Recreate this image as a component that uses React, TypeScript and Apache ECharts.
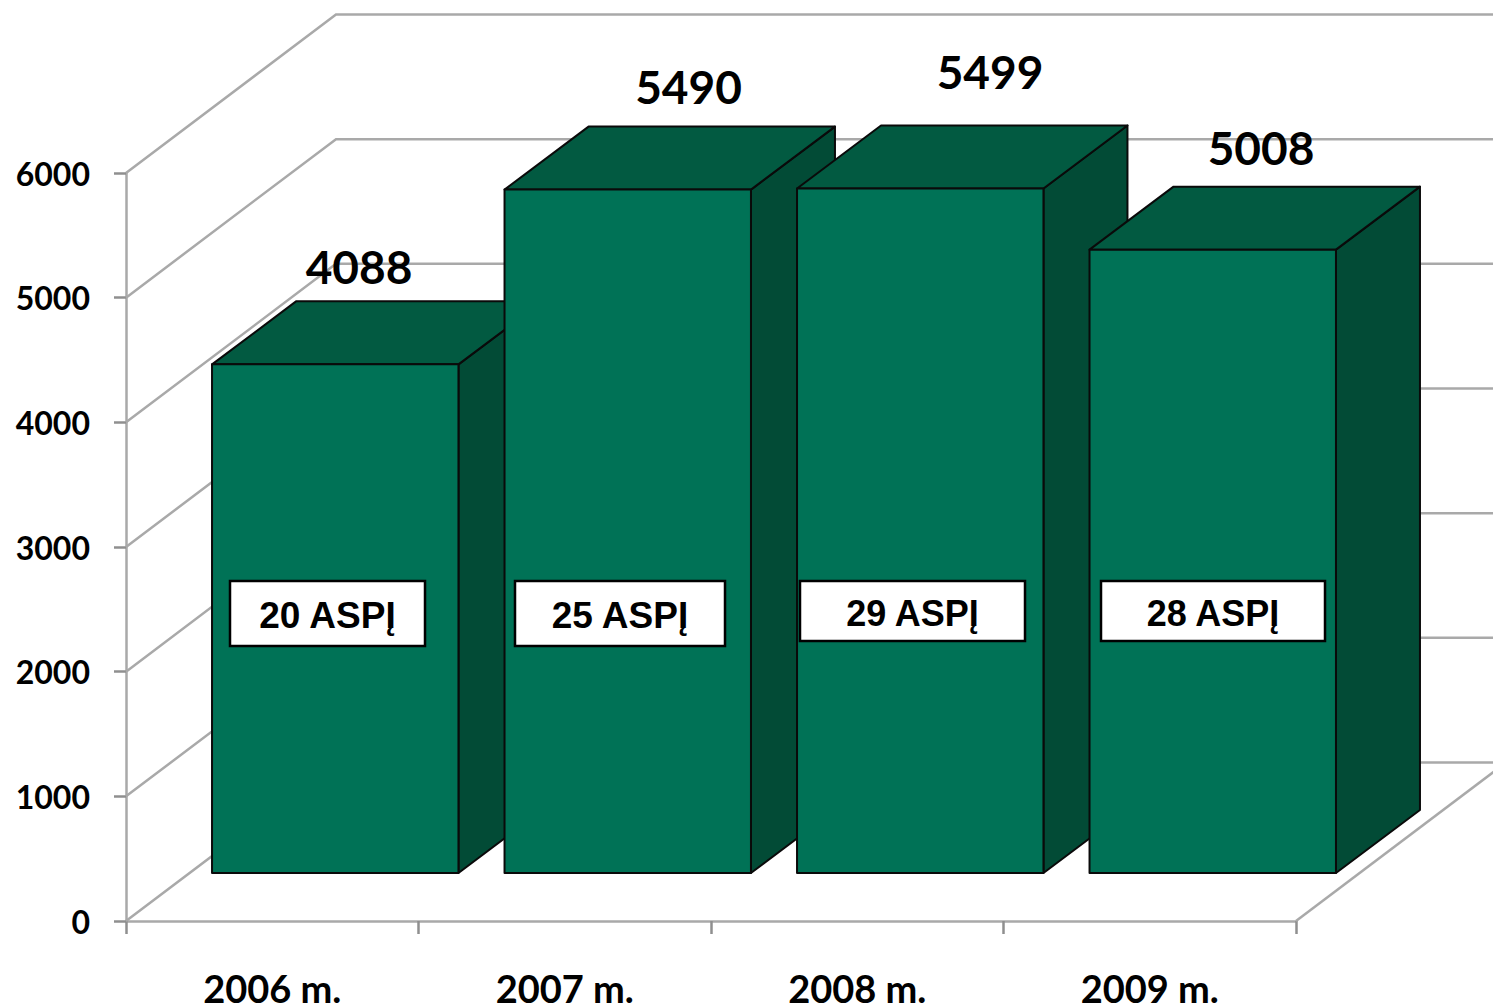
import React, { useEffect, useRef } from "react";
import * as echarts from "echarts";

const categories = ["2006 m.", "2007 m.", "2008 m.", "2009 m."];
const values = [4088, 5490, 5499, 5008];
const notes = ["20 ASPĮ", "25 ASPĮ", "29 ASPĮ", "28 ASPĮ"];
const yTicks = [0, 1000, 2000, 3000, 4000, 5000, 6000];

// Layout of the annotations (page pixels)
const valueLabelCenters = [[359, 266], [688.5, 86], [990, 71], [1261, 147]];
const noteBoxes = [
  { x: 230, y: 581, w: 195, h: 65, fs: 37 },
  { x: 515, y: 581, w: 210, h: 65, fs: 37 },
  { x: 800, y: 581, w: 225, h: 60, fs: 36 },
  { x: 1101, y: 581, w: 224, h: 60, fs: 36 },
];

const GRID = "#a9a9a9";
const FRONT = "#007256";
const TOP = "#025a41";
const SIDE = "#024b36";
const WALL_DX = 210;
const WALL_DY = -158.5;
const BAR_OFF_X = 63;
const BAR_OFF_Y = -48;
const BAR_TOP_ADJ = 1;
const BAR_DX = 84;
const BAR_DY = -63;
const NUM_FONT = "Lato";

export default function App() {
  const ref = useRef<HTMLDivElement>(null);
  useEffect(() => {
    document.body.style.margin = "0";
    const chart = echarts.init(ref.current!, null, { renderer: "svg" });
    chart.setOption({
      animation: false,
      backgroundColor: "#ffffff",
      grid: { left: 126, right: 197, top: 173, bottom: 84, outerBoundsMode: "none" },
      xAxis: {
        type: "category",
        data: categories,
        axisLine: { lineStyle: { color: GRID, width: 2.5 } },
        axisTick: { show: true, alignWithLabel: false, length: 13, lineStyle: { color: "#8f8f8f", width: 2.5 } },
        axisLabel: {
          margin: 52,
          lineHeight: 30,
          fontFamily: NUM_FONT,
          fontWeight: "bold",
          fontSize: 38,
          color: "#000",
        },
      },
      yAxis: {
        type: "value",
        min: 0,
        max: 6000,
        interval: 1000,
        splitLine: { show: false },
        axisLine: { show: true, lineStyle: { color: GRID, width: 2.5 } },
        axisTick: { show: true, length: 12, lineStyle: { color: "#8f8f8f", width: 2.5 } },
        axisLabel: {
          margin: 36,
          fontFamily: NUM_FONT,
          fontWeight: "bold",
          fontSize: 32,
          color: "#000",
          formatter: (v: number) => String(v),
        },
      },
      series: [
        {
          type: "custom",
          silent: true,
          clip: false,
          z: 1,
          data: yTicks.map((v) => [0, v]),
          renderItem: (params: any, api: any) => {
            const cs = params.coordSys;
            const y = api.coord([0, api.value(1)])[1];
            const left = cs.x;
            const right = cs.x + cs.width;
            const children: any[] = [
              {
                type: "polyline",
                shape: {
                  points: [
                    [left, y],
                    [left + WALL_DX, y + WALL_DY],
                    [right + WALL_DX, y + WALL_DY],
                  ],
                },
                style: { stroke: GRID, fill: "none", lineWidth: 2.5 },
              },
            ];
            if (api.value(1) === 0) {
              children.push({
                type: "line",
                shape: { x1: right, y1: y, x2: right + WALL_DX, y2: y + WALL_DY },
                style: { stroke: GRID, lineWidth: 2.5 },
              });
            }
            return { type: "group", children };
          },
        },
        {
          type: "custom",
          silent: true,
          clip: false,
          z: 2,
          data: values.map((v, i) => [i, v]),
          renderItem: (_params: any, api: any) => {
            const band = api.size([1, 0])[0];
            const w = band * 0.8425;
            const c = api.coord([api.value(0), api.value(1)]);
            const b = api.coord([api.value(0), 0]);
            const x0 = c[0] + BAR_OFF_X - w / 2;
            const x1 = x0 + w;
            const yTop = c[1] + BAR_OFF_Y + BAR_TOP_ADJ;
            const yBase = b[1] + BAR_OFF_Y;
            const line = { stroke: "#0a0a0a", lineWidth: 2, lineJoin: "round" };
            return {
              type: "group",
              children: [
                {
                  type: "polygon",
                  shape: {
                    points: [
                      [x1, yTop],
                      [x1 + BAR_DX, yTop + BAR_DY],
                      [x1 + BAR_DX, yBase + BAR_DY],
                      [x1, yBase],
                    ],
                  },
                  style: { fill: SIDE, ...line },
                },
                {
                  type: "polygon",
                  shape: {
                    points: [
                      [x0, yTop],
                      [x0 + BAR_DX, yTop + BAR_DY],
                      [x1 + BAR_DX, yTop + BAR_DY],
                      [x1, yTop],
                    ],
                  },
                  style: { fill: TOP, ...line },
                },
                {
                  type: "rect",
                  shape: { x: x0, y: yTop, width: w, height: yBase - yTop },
                  style: { fill: FRONT, ...line },
                },
              ],
            };
          },
        },
        {
          type: "custom",
          silent: true,
          clip: false,
          z: 3,
          data: values.map((v, i) => [i, v]),
          renderItem: (params: any, api: any) => {
            const i = params.dataIndex;
            const box = noteBoxes[i];
            const lab = valueLabelCenters[i];
            return {
              type: "group",
              children: [
                {
                  type: "text",
                  x: lab[0],
                  y: lab[1],
                  style: {
                    text: String(api.value(1)),
                    fontFamily: NUM_FONT,
                    fontWeight: "bold",
                    fontSize: 46,
                    fill: "#000",
                    align: "center",
                    verticalAlign: "middle",
                  },
                },
                {
                  type: "rect",
                  shape: { x: box.x, y: box.y, width: box.w, height: box.h },
                  style: { fill: "#fff", stroke: "#000", lineWidth: 2.5 },
                },
                {
                  type: "text",
                  x: box.x + box.w / 2,
                  y: box.y + box.h / 2 + 2,
                  style: {
                    text: notes[i],
                    fontFamily: "Liberation Sans",
                    fontWeight: "bold",
                    fontSize: box.fs,
                    fill: "#000",
                    align: "center",
                    verticalAlign: "middle",
                  },
                },
              ],
            };
          },
        },
      ],
    });
    return () => chart.dispose();
  }, []);
  return (
    <div
      ref={ref}
      style={{ position: "absolute", left: 0, top: 0, width: 1493, height: 1005 }}
    />
  );
}
